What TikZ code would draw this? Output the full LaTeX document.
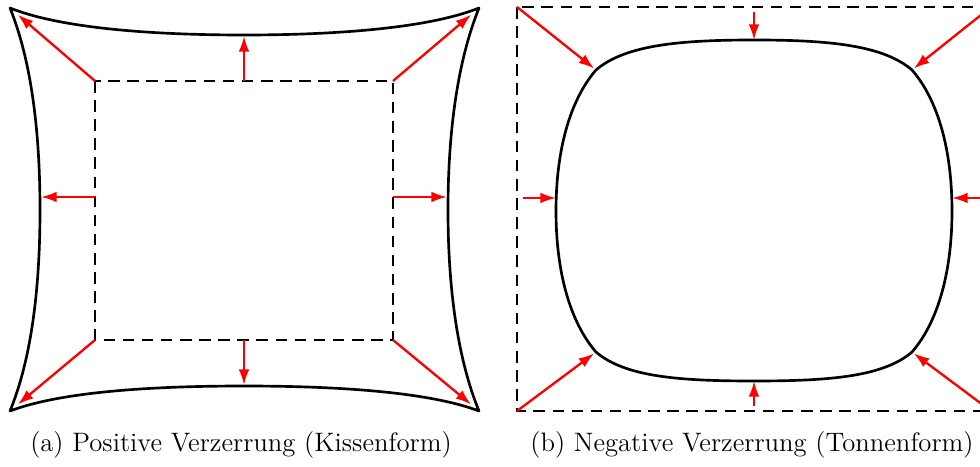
\documentclass[tikz,border=0pt]{standalone}
\usetikzlibrary{arrows.meta}
\definecolor{warpred}{RGB}{255,0,0}

\begin{document}
\begin{tikzpicture}[x=0.45pt, y=-0.45pt,
    frame/.style={draw=black, line width=1.3pt, dash pattern=on 5.2pt off 3.4pt},
    warp/.style={draw=black, line width=1.2pt, line join=round},
    arrow/.style={-{Latex[length=7pt, width=4.8pt]}, draw=warpred, line width=1.05pt},
    caption/.style={anchor=base, font=\large, inner sep=0pt}
  ]
    \clip (0,0) rectangle (980,467);

    % (a) Kissenform
    \coordinate (q1) at (95,81);   \coordinate (q2) at (393,81);
    \coordinate (q3) at (393,340); \coordinate (q4) at (95,340);
    \coordinate (a1) at (10,8);    \coordinate (a2) at (479,8);
    \coordinate (a3) at (479,411); \coordinate (a4) at (10,411);
    \coordinate (aT) at (244,35);  \coordinate (aB) at (244,386);
    \coordinate (aL) at (40,210);  \coordinate (aR) at (448,210);

    \draw[frame] (q1) rectangle (q3);
    \draw[warp] (a1) .. controls (60,28) and (150,35) .. (aT)
                     .. controls (338,35) and (429,28) .. (a2)
                     .. controls (458,60) and (448,130) .. (aR)
                     .. controls (448,290) and (458,360) .. (a3)
                     .. controls (429,392) and (338,386) .. (aB)
                     .. controls (150,386) and (60,392) .. (a4)
                     .. controls (31,360) and (40,290) .. (aL)
                     .. controls (40,130) and (31,60) .. cycle;

    \coordinate (qt) at (244,81);  \coordinate (qb) at (244,340);
    \coordinate (ql) at (95,197);  \coordinate (qr) at (393,197);
    \coordinate (at) at (244,36);  \coordinate (ab) at (244,385);
    \coordinate (al) at (41,197);  \coordinate (ar) at (447,197);

    \foreach \s/\t in {q1/a1, q2/a2, q3/a3, q4/a4}
      \draw[arrow, shorten >=4.6pt] (\s) -- (\t);
    \foreach \s/\t in {qt/at, qb/ab, ql/al, qr/ar}
      \draw[arrow] (\s) -- (\t);

    \node[caption] (capa) at (241,452) {(a) Positive Verzerrung (Kissenform)};

    % (b) Tonnenform
    \coordinate (d1) at (517,7);   \coordinate (d2) at (991,7);
    \coordinate (d3) at (991,411); \coordinate (d4) at (517,411);
    \coordinate (c1) at (596,70);  \coordinate (c2) at (912,70);
    \coordinate (c3) at (912,352); \coordinate (c4) at (596,352);
    \coordinate (cT) at (754,40);  \coordinate (cB) at (754,381);
    \coordinate (cL) at (556,211); \coordinate (cR) at (952,211);

    \draw[frame] (d1) rectangle (d3);
    \draw[warp] (c1) .. controls (625,45) and (680,40) .. (cT)
                     .. controls (828,40) and (883,45) .. (c2)
                     .. controls (938,100) and (952,150) .. (cR)
                     .. controls (952,272) and (938,322) .. (c3)
                     .. controls (883,377) and (828,381) .. (cB)
                     .. controls (680,381) and (625,377) .. (c4)
                     .. controls (570,322) and (556,272) .. (cL)
                     .. controls (556,150) and (570,100) .. cycle;

    \coordinate (dt) at (754,12);  \coordinate (db) at (754,406);
    \coordinate (dl) at (523,198); \coordinate (dr) at (985,198);
    \coordinate (ct) at (754,40);  \coordinate (cb) at (754,381);
    \coordinate (cl) at (556,198); \coordinate (cr) at (952,198);

    \foreach \s/\t in {d1/c1, d2/c2, d3/c3, d4/c4}
      \draw[arrow, shorten >=1pt] (\s) -- (\t);
    \foreach \s/\t in {dt/ct, db/cb, dl/cl, dr/cr}
      \draw[arrow] (\s) -- (\t);

    \node[caption] (capb) at (752,452) {(b) Negative Verzerrung (Tonnenform)};
\end{tikzpicture}
\end{document}
